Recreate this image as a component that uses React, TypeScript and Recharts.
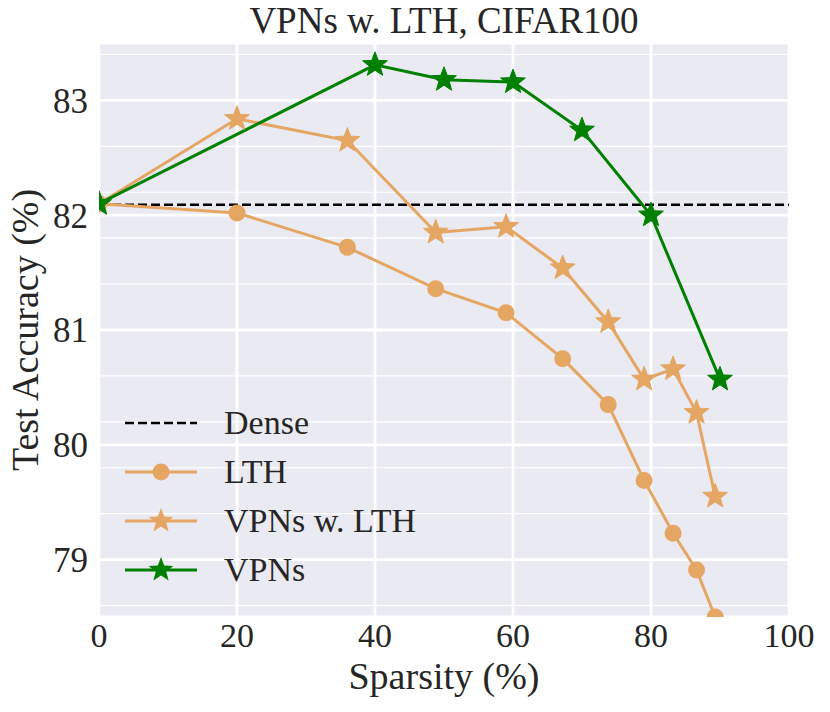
import React from 'react';
import { CartesianGrid, Legend, Line, LineChart, ReferenceLine, XAxis, YAxis } from 'recharts';

// sparsity levels (%) used by the LTH runs
const sparsityLTH = [0, 20, 36, 48.8, 59, 67.2, 73.8, 79, 83.2, 86.6, 89.3];
const accLTH = [82.1, 82.02, 81.72, 81.36, 81.15, 80.75, 80.35, 79.69, 79.23, 78.91, 78.5];
const accVPNsLTH = [82.1, 82.84, 82.65, 81.85, 81.9, 81.54, 81.07, 80.57, 80.66, 80.28, 79.55];

const sparsityVPNs = [0, 40, 50, 60, 70, 80, 90];
const accVPNs = [82.1, 83.31, 83.18, 83.16, 82.74, 82.0, 80.57];

const denseAcc = 82.09;

const xTicks = [0, 20, 40, 60, 80, 100];
const yTicks = [79, 80, 81, 82, 83];
const yMinorTicks = [78.6, 78.8, 79, 79.2, 79.4, 79.6, 79.8, 80, 80.2, 80.4, 80.6, 80.8, 81, 81.2, 81.4, 81.6, 81.8, 82, 82.2, 82.4, 82.6, 82.8, 83, 83.2, 83.4];

const legendItems = ['Dense', 'LTH', 'VPNs w. LTH', 'VPNs'];

const ORANGE = '#E5A663';
const GREEN = '#008000';
const TEXT = '#262626';
const FONT = '"Liberation Serif", "DejaVu Serif", serif';

const lthData = sparsityLTH.map((x, i) => ({ x, y: accLTH[i] }));
const vpnsLthData = sparsityLTH.map((x, i) => ({ x, y: accVPNsLTH[i] }));
const vpnsData = sparsityVPNs.map((x, i) => ({ x, y: accVPNs[i] }));

function starPoints(cx: number, cy: number, r: number) {
  const pts: string[] = [];
  for (let k = 0; k < 10; k++) {
    const rad = k % 2 === 0 ? r : r * 0.42;
    const a = -Math.PI / 2 + (k * Math.PI) / 5;
    pts.push(`${cx + rad * Math.cos(a)},${cy + rad * Math.sin(a)}`);
  }
  return pts.join(' ');
}

const makeStar = (color: string) => (props: any) => {
  const { cx, cy, index } = props;
  if (cx == null || cy == null) return <g key={`n-${index}`} />;
  return <polygon key={`st-${index}`} points={starPoints(cx, cy, 13)} fill={color} stroke={color} strokeWidth={1} strokeLinejoin="miter" />;
};

function LegendIcon({ name }: { name: string }) {
  if (name === 'Dense') {
    return (
      <svg width={72} height={30}>
        <line x1={0} y1={15} x2={72} y2={15} stroke="#000" strokeWidth={2.5} strokeDasharray="9 4" />
      </svg>
    );
  }
  const color = name === 'VPNs' ? GREEN : ORANGE;
  return (
    <svg width={72} height={30}>
      <line x1={0} y1={15} x2={72} y2={15} stroke={color} strokeWidth={3} />
      {name === 'LTH' ? (
        <circle cx={36} cy={15} r={8.5} fill={color} />
      ) : (
        <polygon points={starPoints(36, 15, 13)} fill={color} />
      )}
    </svg>
  );
}

function LegendBox() {
  return (
    <div style={{ fontFamily: FONT, fontSize: 34, color: TEXT }}>
      {legendItems.map((name) => (
        <div key={name} style={{ display: 'flex', alignItems: 'center', height: 49 }}>
          <LegendIcon name={name} />
          <span style={{ marginLeft: 27, lineHeight: '49px' }}>{name}</span>
        </div>
      ))}
    </div>
  );
}

export default function App() {
  return (
    <div style={{ position: 'absolute', left: 0, top: 0, width: 830, height: 712, background: '#fff' }}>
      <svg width={830} height={45} style={{ position: 'absolute', left: 0, top: 0 }}>
        <text x={444} y={33} textAnchor="middle" fontFamily={FONT} fontSize={37} fill={TEXT}>
          VPNs w. LTH, CIFAR100
        </text>
      </svg>
      <LineChart width={830} height={712} margin={{ top: 43, right: 41, bottom: 0, left: 0 }}>
        <CartesianGrid yAxisId="minor" fill="#EAEAF2" stroke="#fff" strokeWidth={1.2} vertical={false} />
        <CartesianGrid stroke="#fff" strokeWidth={2.8} />
        <XAxis
          dataKey="x"
          type="number"
          domain={[0, 100]}
          ticks={xTicks}
          allowDataOverflow
          height={95}
          axisLine={false}
          tickLine={false}
          tickSize={0}
          tickMargin={6}
          tick={{ fontFamily: FONT, fontSize: 34, fill: TEXT }}
          label={(p: any) => {
            const vb = p.viewBox || { x: 99, y: 617, width: 690 };
            return (
              <text x={vb.x + vb.width / 2} y={vb.y + 72} textAnchor="middle" fontFamily={FONT} fontSize={38} fill={TEXT}>
                Sparsity (%)
              </text>
            );
          }}
        />
        <YAxis
          dataKey="y"
          type="number"
          domain={[78.5, 83.5]}
          ticks={yTicks}
          allowDataOverflow
          width={99}
          axisLine={false}
          tickLine={false}
          tickSize={0}
          tickMargin={11}
          tick={{ fontFamily: FONT, fontSize: 35, fill: TEXT }}
          label={(p: any) => {
            const vb = p.viewBox || { x: 0, y: 43, height: 574 };
            const lx = vb.x + 38;
            const ly = vb.y + vb.height / 2;
            return (
              <text x={lx} y={ly} transform={`rotate(-90 ${lx} ${ly})`} textAnchor="middle" fontFamily={FONT} fontSize={38} fill={TEXT}>
                Test Accuracy (%)
              </text>
            );
          }}
        />
        <YAxis yAxisId="minor" type="number" domain={[78.5, 83.5]} ticks={yMinorTicks} allowDataOverflow hide />
        <ReferenceLine y={denseAcc} stroke="#000" strokeWidth={2.5} strokeDasharray="9 4" />
        <Line
          data={lthData}
          dataKey="y"
          name="LTH"
          type="linear"
          stroke={ORANGE}
          strokeWidth={3}
          dot={{ r: 8.5, fill: ORANGE, stroke: ORANGE, strokeWidth: 0 }}
          activeDot={false}
          isAnimationActive={false}
        />
        <Line
          data={vpnsLthData}
          dataKey="y"
          name="VPNs w. LTH"
          type="linear"
          stroke={ORANGE}
          strokeWidth={3}
          dot={makeStar(ORANGE)}
          activeDot={false}
          isAnimationActive={false}
        />
        <Line
          data={vpnsData}
          dataKey="y"
          name="VPNs"
          type="linear"
          stroke={GREEN}
          strokeWidth={3}
          dot={makeStar(GREEN)}
          activeDot={false}
          isAnimationActive={false}
        />
        <Legend
          layout="horizontal"
          verticalAlign="middle"
          align="center"
          content={() => <LegendBox />}
          wrapperStyle={{ position: 'absolute', left: 125, top: 398, width: 'auto' }}
        />
      </LineChart>
    </div>
  );
}
